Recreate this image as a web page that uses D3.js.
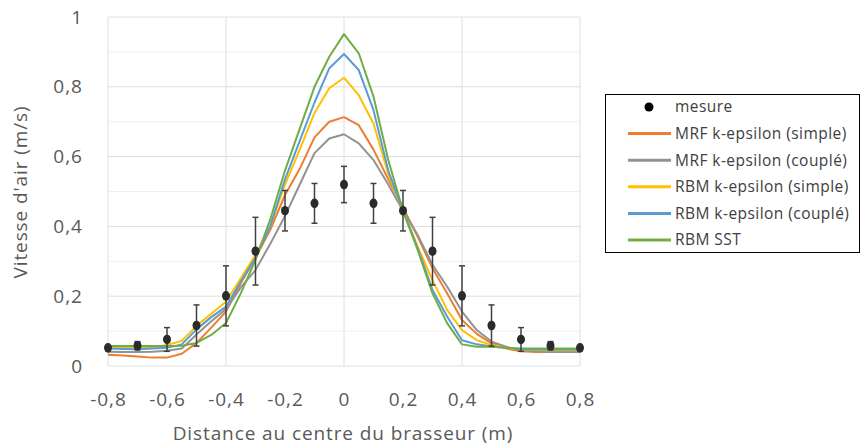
<!DOCTYPE html>
<html>
<head>
<meta charset="utf-8">
<script src="https://cdn.jsdelivr.net/npm/d3@7"></script>
<style>
  body { margin: 0; background: #fff; }
  svg { display: block; font-family: "Open Sans", sans-serif; }
</style>
</head>
<body>
<div id="chart"></div>
<script>
// Abscissa of the simulated profiles (m)
const positions = [-0.8, -0.75, -0.7, -0.65, -0.6, -0.55, -0.5, -0.45, -0.4, -0.35, -0.3, -0.25, -0.2, -0.15, -0.1, -0.05,
    0, 0.05, 0.1, 0.15, 0.2, 0.25, 0.3, 0.35, 0.4, 0.45, 0.5, 0.55, 0.6, 0.65, 0.7, 0.75, 0.8];

// Simulated air speed (m/s) for each model
const mrfSimple = [0.032, 0.030, 0.027, 0.024, 0.024, 0.035, 0.066, 0.110, 0.156, 0.237, 0.310, 0.390, 0.490, 0.565, 0.655, 0.700,
    0.713, 0.690, 0.620, 0.535, 0.455, 0.370, 0.280, 0.208, 0.132, 0.092, 0.065, 0.050, 0.042, 0.040, 0.040, 0.040, 0.040];
const mrfCouple = [0.041, 0.040, 0.040, 0.041, 0.044, 0.050, 0.090, 0.128, 0.163, 0.225, 0.275, 0.350, 0.430, 0.520, 0.610, 0.652,
    0.664, 0.638, 0.590, 0.520, 0.445, 0.375, 0.290, 0.227, 0.156, 0.103, 0.070, 0.055, 0.045, 0.042, 0.040, 0.040, 0.040];
const rbmSimple = [0.052, 0.052, 0.052, 0.054, 0.060, 0.072, 0.115, 0.150, 0.184, 0.251, 0.318, 0.400, 0.520, 0.620, 0.725, 0.796,
    0.826, 0.776, 0.695, 0.550, 0.445, 0.342, 0.246, 0.160, 0.103, 0.074, 0.060, 0.052, 0.047, 0.046, 0.045, 0.045, 0.045];
const rbmCouple = [0.050, 0.049, 0.048, 0.050, 0.052, 0.062, 0.105, 0.140, 0.170, 0.242, 0.310, 0.400, 0.535, 0.645, 0.755, 0.853,
    0.894, 0.848, 0.733, 0.560, 0.445, 0.337, 0.218, 0.141, 0.074, 0.062, 0.056, 0.052, 0.048, 0.047, 0.047, 0.047, 0.047];
const rbmSst = [0.057, 0.057, 0.057, 0.057, 0.057, 0.058, 0.066, 0.089, 0.123, 0.208, 0.304, 0.420, 0.560, 0.680, 0.800, 0.886,
    0.951, 0.896, 0.772, 0.590, 0.445, 0.332, 0.208, 0.122, 0.062, 0.055, 0.055, 0.052, 0.050, 0.050, 0.050, 0.050, 0.050];

// Measured points with their uncertainty
const mesureX = [-0.8, -0.7, -0.6, -0.5, -0.4, -0.3, -0.2, -0.1, 0, 0.1, 0.2, 0.3, 0.4, 0.5, 0.6, 0.7, 0.8];
const mesure = [0.052, 0.058, 0.076, 0.116, 0.201, 0.329, 0.445, 0.466, 0.520, 0.466, 0.445, 0.329, 0.201, 0.116, 0.076, 0.058, 0.052];
const mesureErr = [0.006, 0.012, 0.034, 0.059, 0.086, 0.097, 0.058, 0.057, 0.052, 0.057, 0.058, 0.097, 0.086, 0.059, 0.034, 0.012, 0.006];

const xTicks = [-0.8, -0.6, -0.4, -0.2, 0, 0.2, 0.4, 0.6, 0.8];
const yTicks = [0, 0.2, 0.4, 0.6, 0.8, 1];

const seriesNames = ["MRF k-epsilon (simple)", "MRF k-epsilon (couplé)", "RBM k-epsilon (simple)", "RBM k-epsilon (couplé)", "RBM SST"];
const seriesValues = [mrfSimple, mrfCouple, rbmSimple, rbmCouple, rbmSst];
const seriesColors = ["#ed7d31", "#929292", "#ffc000", "#5b9bd5", "#70ad47"];

const width = 861, height = 448;
const plot = { left: 108, right: 580, top: 17, bottom: 366 };

const x = d3.scaleLinear().domain([-0.8, 0.8]).range([plot.left, plot.right]);
const y = d3.scaleLinear().domain([0, 1]).range([plot.bottom, plot.top]);

const svg = d3.select("#chart").append("svg").attr("width", width).attr("height", height);

const fmt = d => String(d).replace(".", ",");

// Minor horizontal gridlines every 0.1
svg.append("g")
    .selectAll("line")
    .data(d3.range(1, 10, 2).map(i => i / 10))
    .join("line")
    .attr("x1", plot.left).attr("x2", plot.right)
    .attr("y1", d => y(d)).attr("y2", d => y(d))
    .attr("stroke", "#f0f0f0").attr("stroke-width", 1);

// Major gridlines
svg.append("g")
    .selectAll("line")
    .data(yTicks)
    .join("line")
    .attr("x1", plot.left).attr("x2", plot.right)
    .attr("y1", d => y(d)).attr("y2", d => y(d))
    .attr("stroke", "#dedede").attr("stroke-width", 1);

svg.append("g")
    .selectAll("line")
    .data([-0.8, -0.4, 0, 0.4, 0.8])
    .join("line")
    .attr("x1", d => x(d)).attr("x2", d => x(d))
    .attr("y1", plot.top).attr("y2", plot.bottom)
    .attr("stroke", "#dedede").attr("stroke-width", 1);

// Axes (labels only)
const yAxis = svg.append("g")
    .attr("transform", `translate(${plot.left},0)`)
    .call(d3.axisLeft(y).tickValues(yTicks).tickFormat(fmt).tickSize(0).tickPadding(25));
const xAxis = svg.append("g")
    .attr("transform", `translate(0,${plot.bottom})`)
    .call(d3.axisBottom(x).tickValues(xTicks).tickFormat(fmt).tickSize(0).tickPadding(27));
[xAxis, yAxis].forEach(a => {
    a.select(".domain").remove();
    a.selectAll("text")
        .attr("fill", "#595959")
        .style("font-size", "19px")
        .style("letter-spacing", "1px")
        .style("font-family", "'Open Sans', sans-serif");
});

// Model curves
const line = d3.line().x((d, i) => x(positions[i])).y(d => y(d));
seriesValues.forEach((vals, k) => {
    svg.append("path")
        .datum(vals)
        .attr("fill", "none")
        .attr("stroke", seriesColors[k])
        .attr("stroke-width", 2)
        .attr("stroke-linejoin", "round")
        .attr("d", line);
});

// Measurements with error bars
const meas = svg.append("g");
mesure.forEach((v, i) => {
    const cx = x(mesureX[i]);
    const lo = y(v - mesureErr[i]), hi = y(v + mesureErr[i]);
    meas.append("line").attr("x1", cx).attr("x2", cx).attr("y1", lo).attr("y2", hi)
        .attr("stroke", "#404040").attr("stroke-width", 1.5);
    [lo, hi].forEach(yy => meas.append("line")
        .attr("x1", cx - 3).attr("x2", cx + 3).attr("y1", yy).attr("y2", yy)
        .attr("stroke", "#404040").attr("stroke-width", 1.5));
    meas.append("ellipse").attr("cx", cx).attr("cy", y(v)).attr("rx", 4).attr("ry", 4.8)
        .attr("fill", "#2b2b2b");
});

// Axis titles
svg.append("text")
    .attr("x", 343).attr("y", 440)
    .attr("text-anchor", "middle")
    .attr("fill", "#595959")
    .style("font-size", "19px")
    .style("letter-spacing", "0.9px")
    .text("Distance au centre du brasseur (m)");
svg.append("text")
    .attr("transform", "translate(27,192) rotate(-90)")
    .attr("text-anchor", "middle")
    .attr("fill", "#595959")
    .style("font-size", "19px")
    .style("letter-spacing", "0.9px")
    .text("Vitesse d'air (m/s)");

// Legend
const legend = svg.append("g");
legend.append("rect")
    .attr("x", 605.5).attr("y", 94.5).attr("width", 254).attr("height", 158)
    .attr("fill", "#fff").attr("stroke", "#000").attr("stroke-width", 1);
const rowY = i => 107 + i * 26.6;
legend.append("circle").attr("cx", 649).attr("cy", rowY(0)).attr("r", 4.5).attr("fill", "#000");
legend.append("text").attr("x", 675).attr("y", rowY(0)).attr("dy", "0.35em")
    .attr("fill", "#404040").style("font-size", "15.5px").style("letter-spacing", "0.45px").text("mesure");
seriesNames.forEach((name, k) => {
    legend.append("line")
        .attr("x1", 628).attr("x2", 671)
        .attr("y1", rowY(k + 1)).attr("y2", rowY(k + 1))
        .attr("stroke", seriesColors[k]).attr("stroke-width", 3);
    legend.append("text").attr("x", 675).attr("y", rowY(k + 1)).attr("dy", "0.35em")
        .attr("fill", "#404040").style("font-size", "15.5px").style("letter-spacing", "0.45px").text(name);
});
</script>
</body>
</html>
